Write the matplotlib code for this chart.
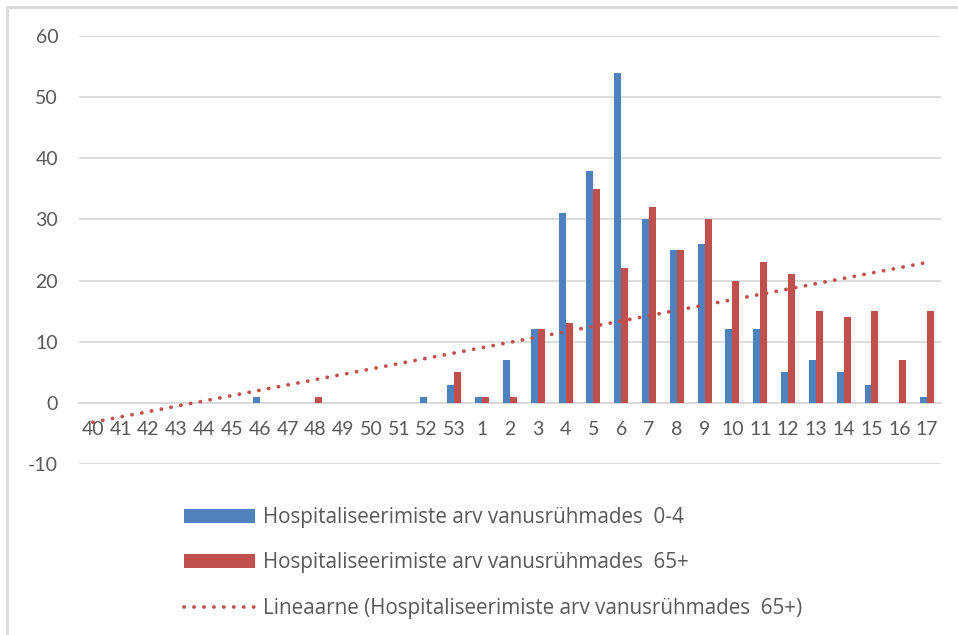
import numpy as np
import matplotlib
matplotlib.use('Agg')
import matplotlib.pyplot as plt
from matplotlib.lines import Line2D

plt.rcParams['font.family'] = ['Lato', 'DejaVu Sans']
plt.rcParams['axes.unicode_minus'] = False

# weeks 40..53 of one year, then 1..17 of the next
weeks = ['40', '41', '42', '43', '44', '45', '46', '47', '48', '49', '50', '51', '52', '53',
         '1', '2', '3', '4', '5', '6', '7', '8', '9', '10', '11', '12', '13', '14', '15', '16', '17']
age_0_4 = [0, 0, 0, 0, 0, 0, 1, 0, 0, 0, 0, 0, 1, 3,
           1, 7, 12, 31, 38, 54, 30, 25, 26, 12, 12, 5, 7, 5, 3, 0, 1]
age_65 = [0, 0, 0, 0, 0, 0, 0, 0, 1, 0, 0, 0, 0, 5,
          1, 1, 12, 13, 35, 22, 32, 25, 30, 20, 23, 21, 15, 14, 15, 7, 15]

lbl_blue = 'Hospitaliseerimiste arv vanusrühmades  0-4'
lbl_red = 'Hospitaliseerimiste arv vanusrühmades  65+'
lbl_trend = 'Lineaarne (Hospitaliseerimiste arv vanusrühmades  65+)'

blue = '#4f81bd'
red = '#c0504d'
text_col = '#595959'
grid_col = '#d9d9d9'

fig = plt.figure(figsize=(9.58, 6.35), dpi=100)
ax = fig.add_axes([79 / 958, 171 / 635, 862 / 958, 428 / 635])

x = np.arange(len(weeks))
w = 0.25
b1 = ax.bar(x - w / 2, age_0_4, w, color=blue, linewidth=0, label=lbl_blue, zorder=3)
b2 = ax.bar(x + w / 2, age_65, w, color=red, linewidth=0, label=lbl_red, zorder=3)

# linear trend of the 65+ series (x = 1..n as in Excel)
k, b = np.polyfit(x + 1, age_65, 1)
tr, = ax.plot(x, k * (x + 1) + b, color=red, linewidth=2.7, linestyle=(0, (0.05, 2.6)),
              dash_capstyle='round', label=lbl_trend, zorder=4)

ax.set_xlim(-0.5, len(weeks) - 0.5)
ax.set_ylim(-10, 60)
ax.set_yticks(range(-10, 61, 10))
ax.yaxis.grid(True, color=grid_col, linewidth=1.3, zorder=0)
ax.set_axisbelow(True)

for s in ['top', 'right', 'left']:
    ax.spines[s].set_visible(False)
ax.spines['bottom'].set_position(('data', 0))
ax.spines['bottom'].set_color(grid_col)
ax.spines['bottom'].set_linewidth(1.3)

ax.set_xticks(x)
ax.set_xticklabels(weeks)
ax.tick_params(axis='x', length=0, pad=13, labelsize=14, labelcolor=text_col)
ax.tick_params(axis='y', length=0, pad=15, labelsize=14, labelcolor=text_col)

leg = fig.legend([b1, b2, tr], [lbl_blue, lbl_red, lbl_trend],
                 loc='upper left', bbox_to_anchor=(176 / 958, 1 - 499 / 635), frameon=False,
                 prop={'family': 'Open Sans', 'size': 14.9},
                 handlelength=3.4, handleheight=0.68, handletextpad=0.38,
                 labelspacing=1.17, borderaxespad=0)
for t in leg.get_texts():
    t.set_color(text_col)

# light frame on the left and top edges
fig.add_artist(Line2D([7 / 958, 7 / 958], [0, 1 - 7 / 635], color=grid_col, linewidth=2))
fig.add_artist(Line2D([7 / 958, 1], [1 - 7 / 635, 1 - 7 / 635], color=grid_col, linewidth=2))

fig.savefig('out.png', dpi=100)
